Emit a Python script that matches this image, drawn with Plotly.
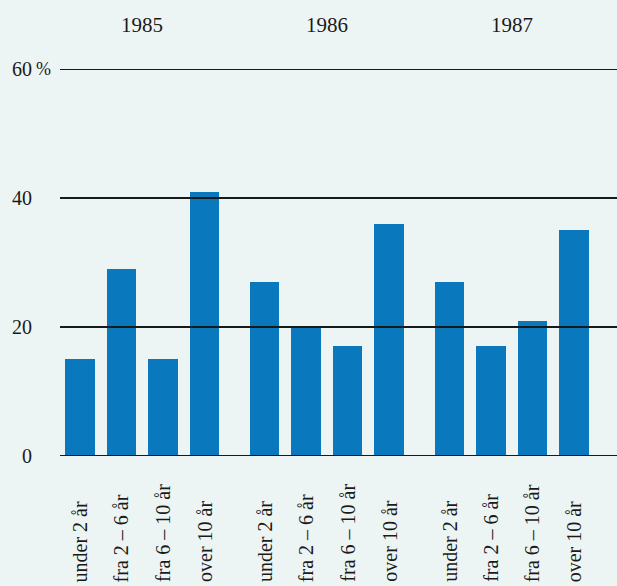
import plotly.graph_objects as go

years = ["1985", "1986", "1987"]
categories = ["under 2 år", "fra 2 – 6 år", "fra 6 – 10 år", "over 10 år"]
values_1985 = [15, 29, 15, 41]
values_1986 = [27, 20, 17, 36]
values_1987 = [27, 17, 21, 35]
series = [values_1985, values_1986, values_1987]
y_ticks = [0, 20, 40, 60]

GROUP_STEP = 4.45
BAR_COLOR = "#0a78bd"
BG = "#edf5f4"
LINE = "#161a1a"
FONT = "Liberation Serif"

W, H = 617, 586
L, R, T, B = 60, 0, 69, 130
plot_h = H - T - B
plot_w = W - L - R

xs, ys = [], []
for g, vals in enumerate(series):
    for j, v in enumerate(vals):
        xs.append(g * GROUP_STEP + j)
        ys.append(v)

fig = go.Figure()
fig.add_trace(go.Bar(x=xs, y=ys, width=0.71, marker=dict(color=BAR_COLOR, line=dict(width=0)),
                     hoverinfo="skip"))

shapes = []
for t in y_ticks:
    shapes.append(dict(type="line", xref="paper", yref="y", x0=0, x1=1, y0=t, y1=t,
                       line=dict(color=LINE, width=2), layer="above"))

annotations = []
for g, yr in enumerate(years):
    annotations.append(dict(text=yr, x=g * GROUP_STEP + 1.5, xref="x",
                            y=1 + (T - 25) / plot_h, yref="paper", showarrow=False,
                            xanchor="center", yanchor="middle",
                            font=dict(family=FONT, size=21, color="#1a1a1a")))
for g in range(len(years)):
    for j, c in enumerate(categories):
        annotations.append(dict(text=c, x=g * GROUP_STEP + j, xref="x",
                                y=-(584 - (T + plot_h)) / plot_h, yref="paper",
                                textangle=-90, showarrow=False,
                                xanchor="center", yanchor="bottom",
                                font=dict(family=FONT, size=20, color="#1a1a1a")))
annotations.append(dict(text="%", x=(34 - L) / plot_w, xref="paper", y=y_ticks[-1], yref="y",
                        showarrow=False, xanchor="left", yanchor="middle",
                        font=dict(family=FONT, size=18, color="#1a1a1a")))

fig.update_layout(
    width=W, height=H,
    margin=dict(l=L, r=R, t=T, b=B, pad=0),
    paper_bgcolor=BG, plot_bgcolor=BG,
    showlegend=False,
    bargap=0,
    shapes=shapes,
    annotations=annotations,
    xaxis=dict(range=[-0.48, 12.94], showticklabels=False, showgrid=False,
               zeroline=False, showline=False, ticks="", fixedrange=True),
    yaxis=dict(range=[0, 60], tickvals=y_ticks, ticktext=[str(t) for t in y_ticks],
               showgrid=False, zeroline=False, showline=False, ticks="",
               ticklabelstandoff=27,
               tickfont=dict(family=FONT, size=20, color="#1a1a1a"), fixedrange=True),
)

fig.write_html("out.html", config={"displayModeBar": False},
               post_script="document.body.style.margin='0';document.body.style.overflow='hidden';")
